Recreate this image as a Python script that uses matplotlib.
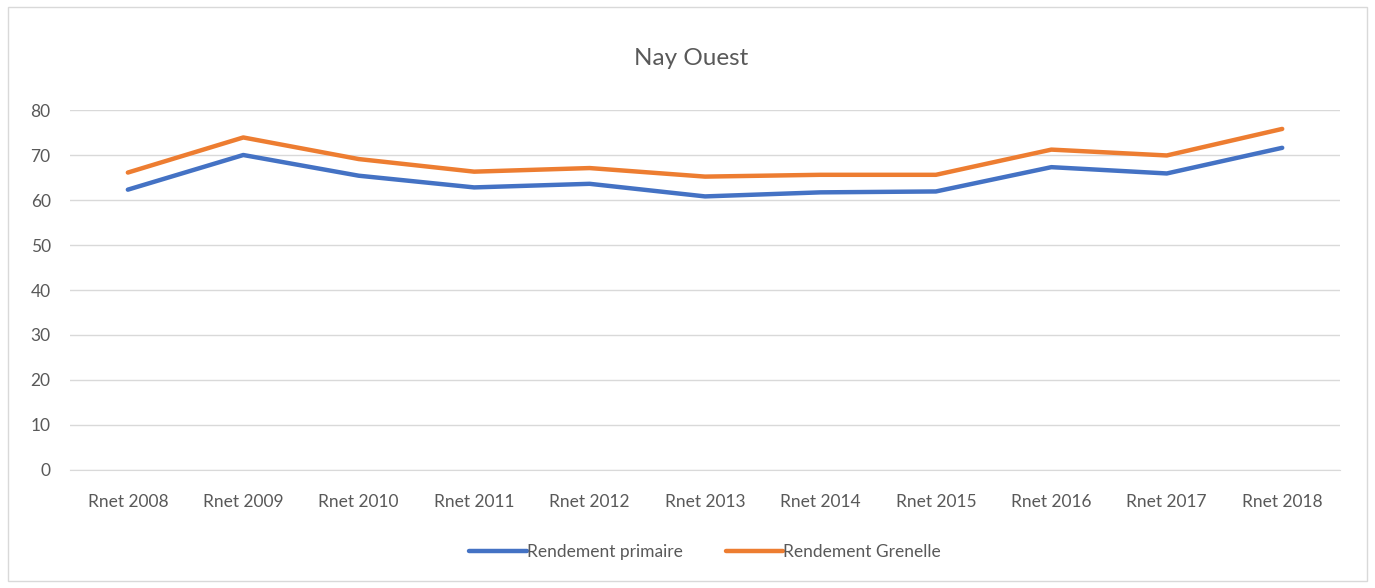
import matplotlib
matplotlib.use("Agg")
import matplotlib.pyplot as plt
from matplotlib.patches import Rectangle

plt.rcParams['font.family'] = ['Lato', 'DejaVu Sans']

categories = ['Rnet 2008', 'Rnet 2009', 'Rnet 2010', 'Rnet 2011', 'Rnet 2012', 'Rnet 2013',
              'Rnet 2014', 'Rnet 2015', 'Rnet 2016', 'Rnet 2017', 'Rnet 2018']
rendement_primaire = [62.3, 70.0, 65.4, 62.8, 63.6, 60.8, 61.7, 61.9, 67.3, 65.9, 71.6]
rendement_grenelle = [66.1, 73.9, 69.1, 66.3, 67.1, 65.2, 65.6, 65.6, 71.2, 69.9, 75.8]
yticks = [0, 10, 20, 30, 40, 50, 60, 70, 80]

fig = plt.figure(figsize=(13.75, 5.88), dpi=100)
fig.patches.append(Rectangle((0.006, 0.012), 0.988, 0.976, transform=fig.transFigure,
                             fill=False, edgecolor='#D9D9D9', linewidth=1))

ax = fig.add_axes([0.051, 0.2007, 0.9235, 0.6122])
x = range(len(categories))
ax.plot(x, rendement_primaire, color='#4472C4', linewidth=3.2, label='Rendement primaire',
        solid_capstyle='round')
ax.plot(x, rendement_grenelle, color='#ED7D31', linewidth=3.2, label='Rendement Grenelle',
        solid_capstyle='round')

ax.set_xlim(-0.5, len(categories) - 0.5)
ax.set_ylim(0, 80)
ax.set_yticks(yticks)
ax.set_xticks(list(x))
ax.set_xticklabels(categories)
ax.grid(axis='y', color='#D9D9D9', linewidth=1)
ax.set_axisbelow(True)
for s in ['top', 'right', 'left']:
    ax.spines[s].set_visible(False)
ax.spines['bottom'].set_color('#D9D9D9')
ax.tick_params(axis='both', length=0, labelsize=12.5, colors='#595959')
ax.tick_params(axis='x', pad=17)
ax.tick_params(axis='y', pad=14)

fig.text(0.503, 0.9, 'Nay Ouest', ha='center', va='center', fontsize=17.5, color='#595959')

ax.legend(loc='center', bbox_to_anchor=(0.5, -0.228), ncol=2, frameon=False,
          fontsize=12.5, labelcolor='#595959', handlelength=3.3, handletextpad=0.0,
          columnspacing=2.5)

fig.savefig('out.png', dpi=100)
